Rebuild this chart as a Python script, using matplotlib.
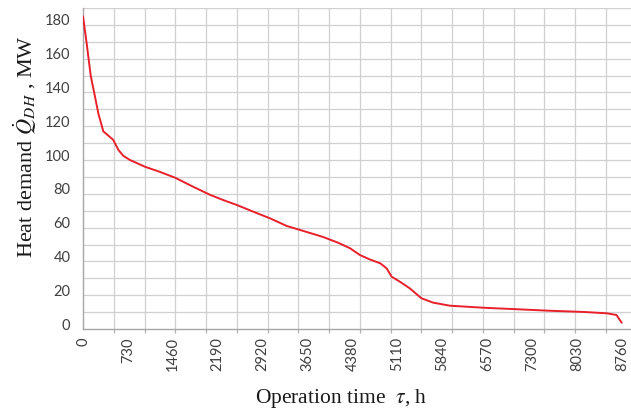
import matplotlib
matplotlib.use("Agg")
import matplotlib.pyplot as plt
import matplotlib.transforms as mtransforms
import numpy as np

# Data (load duration curve)
hours = [0, 60, 125, 195, 250, 330, 490, 575, 655, 765, 1010, 1250, 1500, 1790,
         2060, 2280, 2500, 2770, 3040, 3310, 3530, 3900, 4150, 4340, 4500, 4660,
         4830, 4935, 5015, 5150, 5310, 5500, 5690, 5960, 6500, 7050, 7590, 8130,
         8510, 8670, 8725, 8755]
demand = [185, 169, 150, 137.5, 127.5, 117, 112, 106, 102.5, 100, 96, 93, 89.5,
          84.2, 79.5, 76.3, 73.4, 69.4, 65.5, 61, 58.6, 54.5, 51, 47.8, 43.8, 41.2,
          38.9, 35.9, 31, 28, 24.1, 18.2, 15.6, 13.8, 12.6, 11.7, 10.8, 10.1, 9.3,
          8.3, 5.3, 3.7]

x_tick_values = [0, 730, 1460, 2190, 2920, 3650, 4380, 5110, 5840, 6570, 7300, 8030, 8760]
x_grid_values = list(range(500, 8901, 500))
y_tick_values = list(range(0, 181, 20))
y_grid_values = list(range(10, 191, 10))

plt.rcParams['mathtext.fontset'] = 'stix'

fig = plt.figure(figsize=(6.31, 4.08), dpi=100)
ax = fig.add_axes([83 / 631, 1 - 329 / 408, (631 - 83) / 631, (329 - 8) / 408])

ax.plot(hours, demand, color='#e8202a', lw=1.4, solid_joinstyle='round',
        solid_capstyle='round', zorder=3)

ax.set_xlim(0, 8760 * 548 / 539)
ax.set_ylim(0, 190)

grid_col = '#d0d0d0'
for v in x_grid_values:
    ax.axvline(v, color=grid_col, lw=0.9, zorder=1)
for v in y_grid_values:
    ax.axhline(v, color=grid_col, lw=0.9, zorder=1)

ax.set_xticks(x_tick_values)
ax.set_xticklabels([str(v) for v in x_tick_values], rotation=90,
                   fontfamily='Lato', fontsize=10.5, color='#404040')
ax.set_xticks(x_grid_values, minor=True)
ax.tick_params(axis='x', which='major', length=0, pad=6)
ax.tick_params(axis='x', which='minor', length=3, color='#b0b0b0', width=0.9)

ax.set_yticks(y_tick_values)
ax.set_yticklabels([str(v) for v in y_tick_values],
                   fontfamily='Lato', fontsize=10.5, color='#404040')
ax.tick_params(axis='y', which='major', length=0, pad=9)
offset = mtransforms.ScaledTranslation(0, 5 / 100, fig.dpi_scale_trans)
for lab in ax.get_yticklabels():
    lab.set_transform(lab.get_transform() + offset)

for side in ['top', 'right']:
    ax.spines[side].set_visible(False)
for side in ['left', 'bottom']:
    ax.spines[side].set_color('#a6a6a6')
    ax.spines[side].set_linewidth(1.0)

fig.text(0.040, 1 - 147 / 408, r'Heat demand $\dot{Q}_{DH}$ , MW', rotation=90,
         ha='center', va='center', fontfamily='Liberation Serif', fontsize=16,
         color='#1a1a1a')
fig.text(341 / 631, 1 - 398 / 408, r'Operation time  $\tau$, h',
         ha='center', va='center', fontfamily='Liberation Serif', fontsize=15.5,
         color='#1a1a1a')

fig.savefig('out.png', dpi=100)
